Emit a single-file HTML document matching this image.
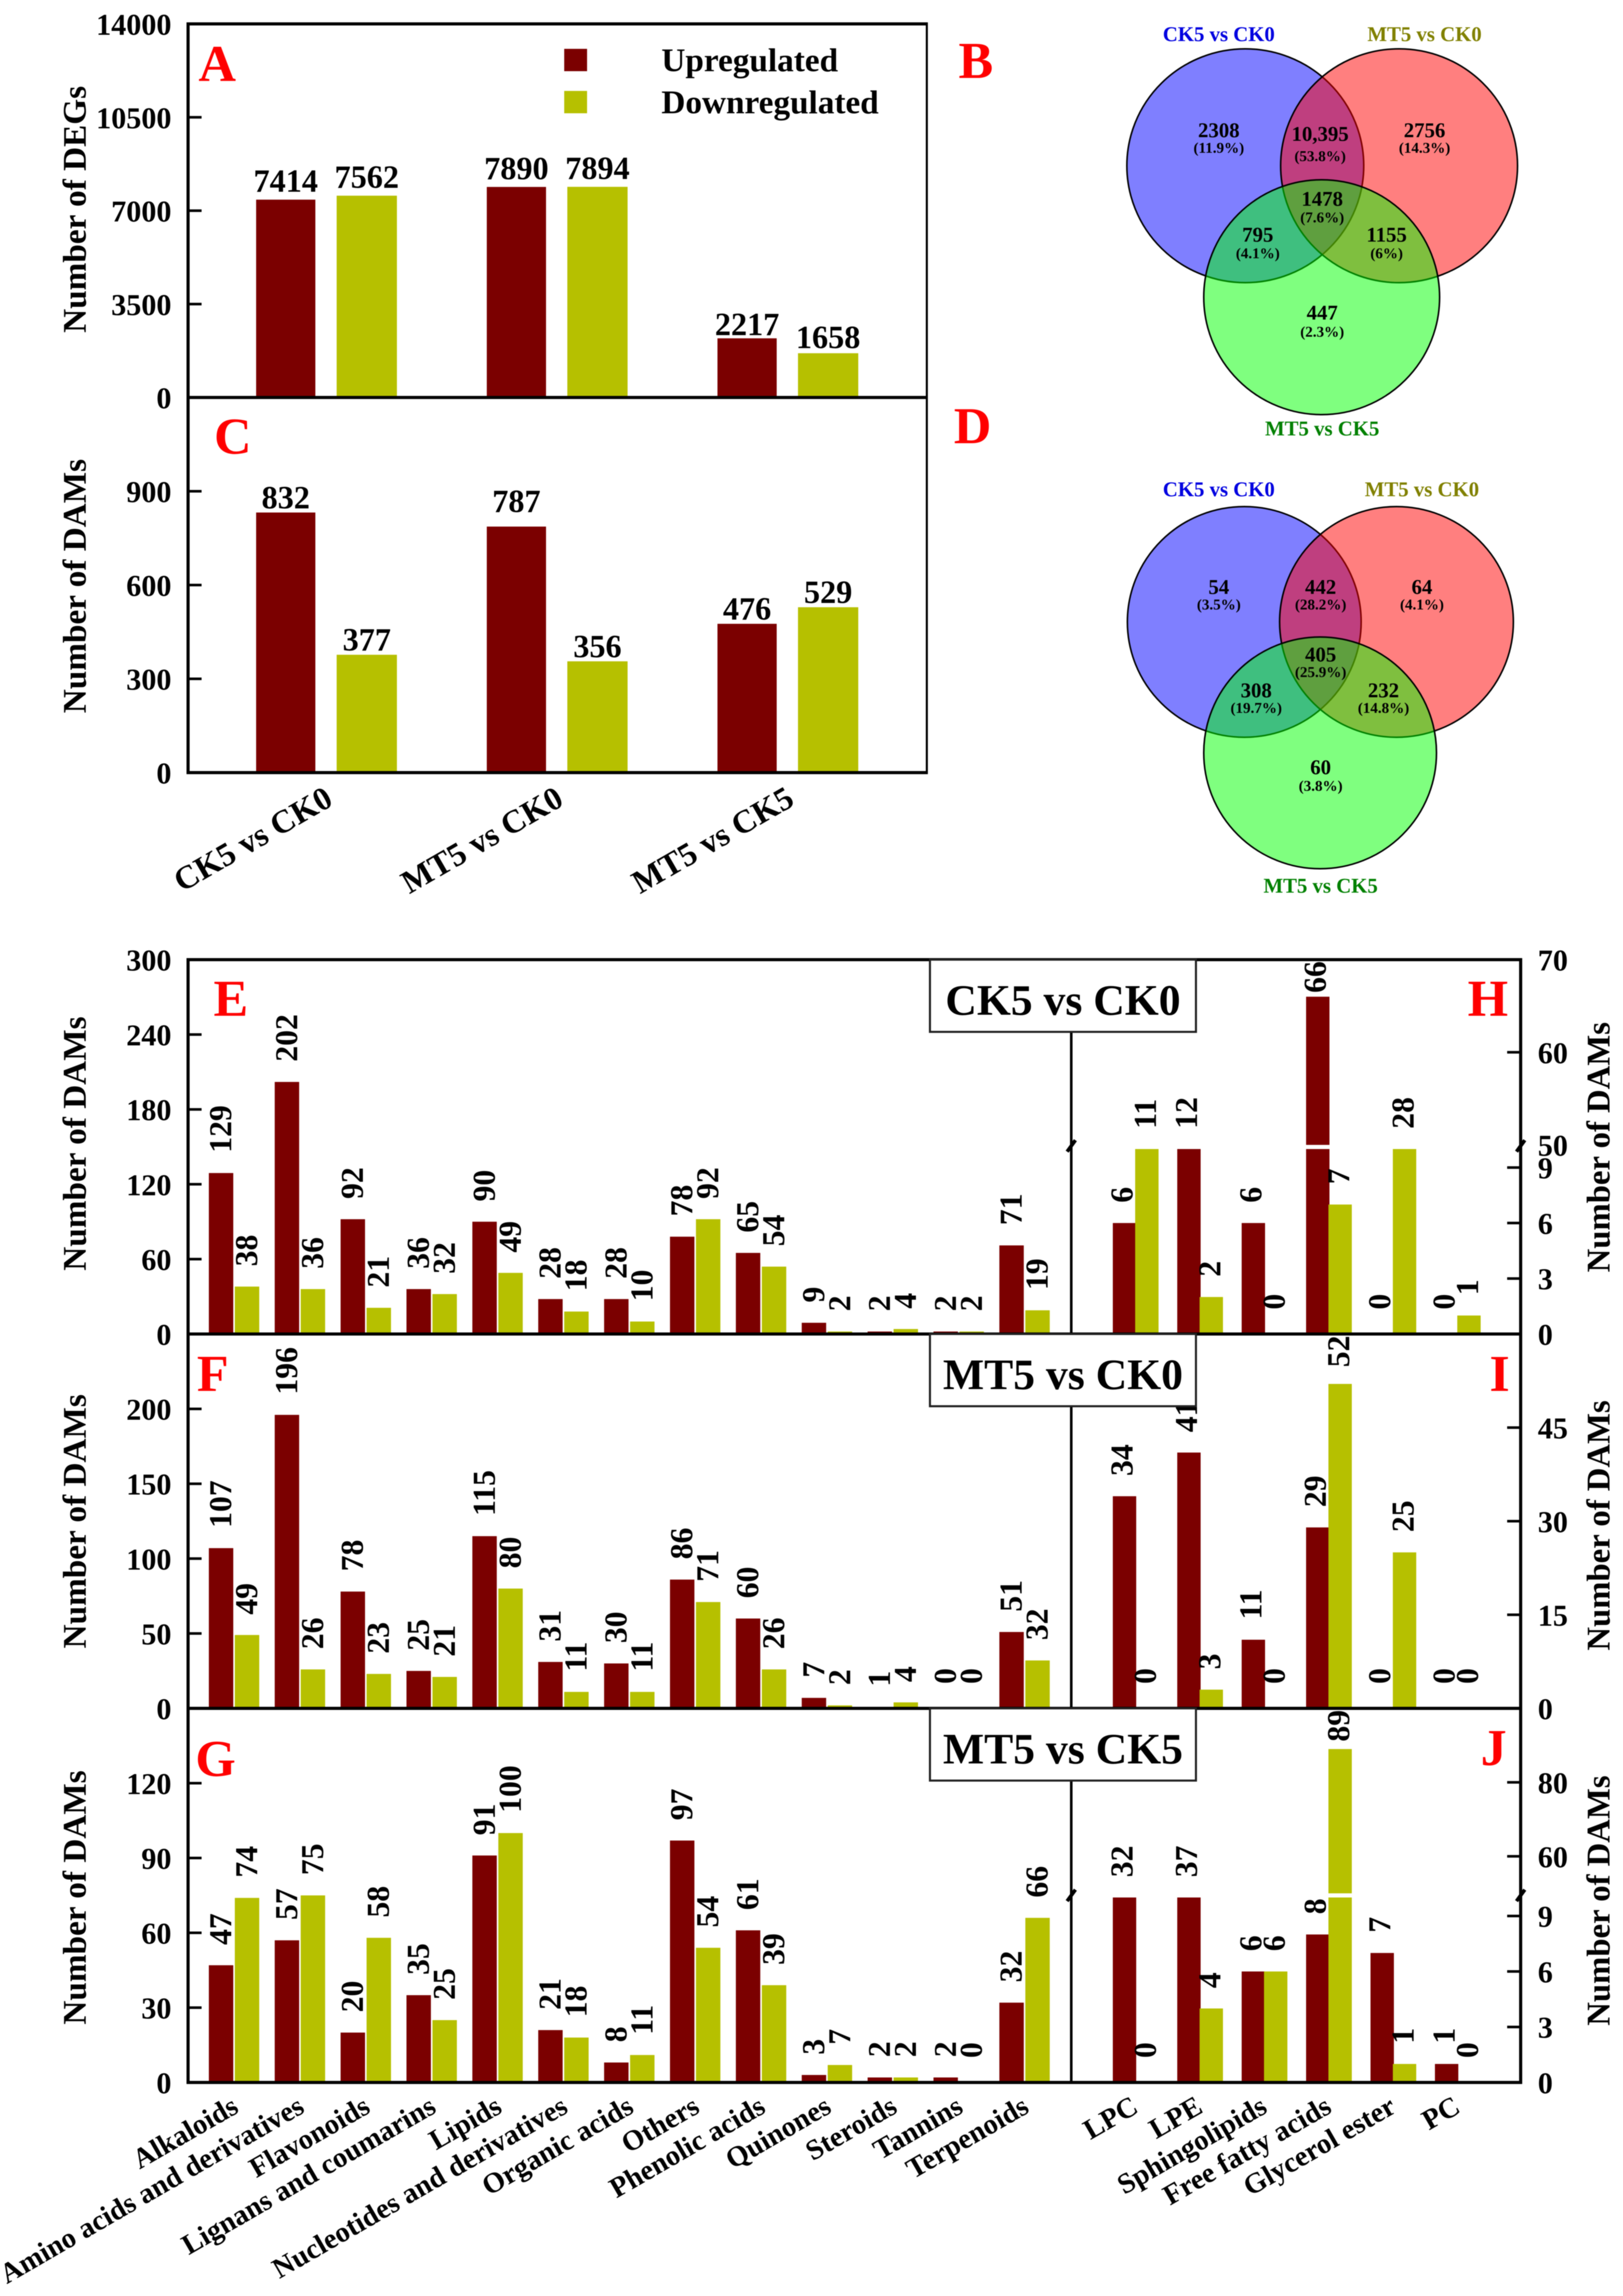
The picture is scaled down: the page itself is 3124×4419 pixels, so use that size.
<!DOCTYPE html>
<html>
<head>
<meta charset="utf-8">
<title>DEG and DAM bar charts with Venn diagrams</title>
<style>
html,body{margin:0;padding:0;background:#fff;width:3124px;height:4419px;overflow:hidden}
svg{display:block;filter:blur(0.9px)}
text{font-family:"Liberation Serif","Times New Roman",serif;font-weight:bold}
</style>
</head>
<body>
<svg id="fig" xmlns="http://www.w3.org/2000/svg" width="3124" height="4419" viewBox="0 0 3124 4419">
<rect x="0" y="0" width="3124" height="4419" fill="#fff"/>

<g>
  <ellipse cx="2397" cy="319" rx="228" ry="225" fill="#0000ff" fill-opacity=".5" stroke="#000" stroke-width="3"/>
  <ellipse cx="2693" cy="319" rx="228" ry="225" fill="#ff0000" fill-opacity=".5" stroke="#000" stroke-width="3"/>
  <ellipse cx="2544" cy="572" rx="227" ry="226" fill="#00ff00" fill-opacity=".5" stroke="#000" stroke-width="3"/>
  <g text-anchor="middle">
    <text x="2346" y="79" font-size="40" fill="#0000e0">CK5 vs CK0</text>
    <text x="2742" y="79" font-size="40" fill="#808000">MT5 vs CK0</text>
    <text x="2545" y="838" font-size="40" fill="#008000">MT5 vs CK5</text>
    <text x="2346" y="264" font-size="40">2308</text>
    <text x="2346" y="294" font-size="29">(11.9%)</text>
    <text x="2541" y="271" font-size="40">10,395</text>
    <text x="2541" y="310" font-size="29">(53.8%)</text>
    <text x="2742" y="264" font-size="40">2756</text>
    <text x="2742" y="294" font-size="29">(14.3%)</text>
    <text x="2545" y="396" font-size="40">1478</text>
    <text x="2545" y="428" font-size="29">(7.6%)</text>
    <text x="2421" y="465" font-size="40">795</text>
    <text x="2421" y="497" font-size="29">(4.1%)</text>
    <text x="2669" y="465" font-size="40">1155</text>
    <text x="2669" y="497" font-size="29">(6%)</text>
    <text x="2545" y="615" font-size="40">447</text>
    <text x="2545" y="648" font-size="29">(2.3%)</text>
  </g>
</g>

<g>
  <ellipse cx="2395" cy="1197" rx="225" ry="222" fill="#0000ff" fill-opacity=".5" stroke="#000" stroke-width="3"/>
  <ellipse cx="2688" cy="1197" rx="225" ry="222" fill="#ff0000" fill-opacity=".5" stroke="#000" stroke-width="3"/>
  <ellipse cx="2541" cy="1449" rx="224" ry="223" fill="#00ff00" fill-opacity=".5" stroke="#000" stroke-width="3"/>
  <g text-anchor="middle">
    <text x="2346" y="955" font-size="40" fill="#0000e0">CK5 vs CK0</text>
    <text x="2737" y="955" font-size="40" fill="#808000">MT5 vs CK0</text>
    <text x="2542" y="1718" font-size="40" fill="#008000">MT5 vs CK5</text>
    <text x="2346" y="1143" font-size="40">54</text>
    <text x="2346" y="1173" font-size="29">(3.5%)</text>
    <text x="2542" y="1143" font-size="40">442</text>
    <text x="2542" y="1173" font-size="29">(28.2%)</text>
    <text x="2737" y="1143" font-size="40">64</text>
    <text x="2737" y="1173" font-size="29">(4.1%)</text>
    <text x="2542" y="1273" font-size="40">405</text>
    <text x="2542" y="1303" font-size="29">(25.9%)</text>
    <text x="2418" y="1342" font-size="40">308</text>
    <text x="2418" y="1372" font-size="29">(19.7%)</text>
    <text x="2663" y="1342" font-size="40">232</text>
    <text x="2663" y="1372" font-size="29">(14.8%)</text>
    <text x="2542" y="1490" font-size="40">60</text>
    <text x="2542" y="1522" font-size="29">(3.8%)</text>
  </g>
</g>

<g>
  <rect x="1086" y="94" width="44" height="43" fill="#7b0000"/>
  <rect x="1086" y="175" width="44" height="43" fill="#b6c000"/>
  <text x="1273" y="137" font-size="64">Upregulated</text>
  <text x="1273" y="218" font-size="64">Downregulated</text>
</g>

<g fill="#f00" font-size="100">
  <text x="382" y="156" fill="#f00">A</text>
  <text x="1845" y="150" fill="#f00">B</text>
  <text x="412" y="873" fill="#f00">C</text>
  <text x="1836" y="853" fill="#f00">D</text>
  <text x="411" y="1955" fill="#f00">E</text>
  <text x="379" y="2677" fill="#f00">F</text>
  <text x="376" y="3418" fill="#f00">G</text>
  <text x="2825" y="1955" fill="#f00">H</text>
  <text x="2867" y="2677" fill="#f00">I</text>
  <text x="2850" y="3397" fill="#f00">J</text>
</g>
</svg>

<script>
/* ---- data ---- */
const comparisonLabels = ["CK5 vs CK0", "MT5 vs CK0", "MT5 vs CK5"];
const degUp = [7414, 7890, 2217];
const degDown = [7562, 7894, 1658];
const damUp = [832, 787, 476];
const damDown = [377, 356, 529];
const degTicks = [0, 3500, 7000, 10500, 14000];
const damTicks = [0, 300, 600, 900];

const classLabels = ["Alkaloids", "Amino acids and derivatives", "Flavonoids", "Lignans and coumarins", "Lipids", "Nucleotides and derivatives", "Organic acids", "Others", "Phenolic acids", "Quinones", "Steroids", "Tannins", "Terpenoids"];
const lipidLabels = ["LPC", "LPE", "Sphingolipids", "Free fatty acids", "Glycerol ester", "PC"];

const eUp = [129, 202, 92, 36, 90, 28, 28, 78, 65, 9, 2, 2, 71];
const eDown = [38, 36, 21, 32, 49, 18, 10, 92, 54, 2, 4, 2, 19];
const fUp = [107, 196, 78, 25, 115, 31, 30, 86, 60, 7, 1, 0, 51];
const fDown = [49, 26, 23, 21, 80, 11, 11, 71, 26, 2, 4, 0, 32];
const gUp = [47, 57, 20, 35, 91, 21, 8, 97, 61, 3, 2, 2, 32];
const gDown = [74, 75, 58, 25, 100, 18, 11, 54, 39, 7, 2, 0, 66];

const hUp = [6, 12, 6, 66, 0, 0];
const hDown = [11, 2, 0, 7, 28, 1];
const iUp = [34, 41, 11, 29, 0, 0];
const iDown = [0, 3, 0, 52, 25, 0];
const jUp = [32, 37, 6, 8, 7, 1];
const jDown = [0, 4, 6, 89, 1, 0];

const eTicks = [0, 60, 120, 180, 240, 300];
const fTicks = [0, 50, 100, 150, 200];
const gTicks = [0, 30, 60, 90, 120];
const hTicks = [0, 3, 6, 9, 50, 60, 70];
const iTicks = [0, 15, 30, 45];
const jTicks = [0, 3, 6, 9, 60, 80];

/* ---- drawing ---- */
const svg = document.getElementById('fig');
const NS = 'http://www.w3.org/2000/svg';
const UP = '#7b0000', DOWN = '#b6c000';
const layer = document.createElementNS(NS, 'g');


svg.insertBefore(layer, svg.children[1]);

function rect(name, x, y, w, h, fill, stroke, sw) {
  const el = document.createElementNS(NS, 'rect');
  
  
  el.setAttribute('x', x); el.setAttribute('y', y);
  el.setAttribute('width', w); el.setAttribute('height', Math.max(0, h));
  el.setAttribute('fill', fill);
  if (stroke) { el.setAttribute('stroke', stroke); el.setAttribute('stroke-width', sw); }
  layer.appendChild(el);
  return el;
}
function line(name, x1, y1, x2, y2, sw) {
  const el = document.createElementNS(NS, 'line');
  
  
  el.setAttribute('x1', x1); el.setAttribute('y1', y1);
  el.setAttribute('x2', x2); el.setAttribute('y2', y2);
  el.setAttribute('stroke', '#000'); el.setAttribute('stroke-width', sw);
  layer.appendChild(el);
  return el;
}
function label(name, str, x, y, size, anchor, rot) {
  const el = document.createElementNS(NS, 'text');
  
  
  el.setAttribute('font-size', size);
  el.setAttribute('text-anchor', anchor);
  el.setAttribute('transform', 'translate(' + x + ' ' + y + ')' + (rot ? ' rotate(' + rot + ')' : ''));
  el.textContent = str;
  layer.appendChild(el);
  return el;
}

function linearAxis(base, top, max) {
  return { y: v => base - (v / max) * (base - top), isBreak: () => false, broken: false };
}
function brokenAxis(base, top, max) {
  const k = 35.6, lowMax = 10, hiMin = 50;
  const hiStart = base - 364;
  const y = v => v <= lowMax ? base - v * k
    : v < hiMin ? base - lowMax * k
    : hiStart - (v - hiMin) / (max - hiMin) * (hiStart - top);
  return { y: y, isBreak: v => v === hiMin, broken: true, lowTop: base - lowMax * k, hiStart: hiStart, hiMin: hiMin };
}

function drawBars(name, axis, base, x, w, v, color) {
  const lowY = axis.broken ? axis.y(Math.min(v, 10)) : axis.y(v);
  rect(name, x, lowY, w, base - lowY, color);
  if (axis.broken && v >= axis.hiMin) {
    const hy = axis.y(v);
    rect(name + '-upper', x, hy, w, axis.hiStart - hy, color);
  }
}
function valueLabel(name, v, cx, axis, base, top, size) {
  const len = String(v).length * size * 0.5;
  let y = v === 0 ? base - 47 : axis.y(v) - 39;
  y = Math.max(y, top + len + 3);
  label(name, String(v), cx + size * 0.33, y, size, 'start', -90);
}
function leftTicks(prefix, ticks, axis, xAxis, base, top) {
  ticks.forEach(t => {
    const y = axis.y(t);
    if (y > top + 2 && y < base - 2) line(prefix + '-tick', xAxis, y, xAxis + 26, y, 5);
    label(prefix + '-tick-label', String(t), 330, y + 21, 58, 'end');
  });
}
function rightTicks(prefix, ticks, axis, xAxis, base, top) {
  ticks.forEach(t => {
    const y = axis.y(t);
    if (y > top + 2 && y < base - 2 && !axis.isBreak(t)) line(prefix + '-tick', xAxis - 26, y, xAxis, y, 5);
    label(prefix + '-tick-label', String(t), 2960, y + 21, 58, 'start');
  });
}
function breakMark(name, x, y) {
  line(name, x - 8, y + 11, x + 8, y - 11, 7);
}

const L = 362, R1 = 1784, R2 = 2927, DIV = 2062;

/* ---- Panels A and C ---- */
function groupedPanel(id, title, titleY, ups, downs, ticks, max, base, top, gap) {
  const ax = linearAxis(base, top, max);
  ups.forEach((v, i) => {
    const xU = 493 + 444 * i, xD = 648 + 444 * i;
    drawBars(id + '-bar-up-' + i, ax, base, xU, 114, v, UP);
    drawBars(id + '-bar-down-' + i, ax, base, xD, 116, downs[i], DOWN);
    const upShift = (id === 'panel-c' && i === 1) ? 20 : (id === 'panel-a' && i === 2) ? -9 : 0;
    const downShift = (id === 'panel-a' && i === 2) ? -5 : 0;
    label(id + '-value-up', String(v), xU + 57, ax.y(v) - gap - upShift, 62, 'middle');
    label(id + '-value-down', String(downs[i]), xD + 58, ax.y(downs[i]) - gap - downShift, 62, 'middle');
  });
  leftTicks(id, ticks, ax, L, base, top);
  label(id + '-y-axis-title', title, 165, titleY, 64, 'middle', -90);
  line(id + '-axis-left', L, top, L, base, 6);
  line(id + '-axis-right', R1, top, R1, base, 4);
  line(id + '-axis-top', L - 3, top, R1 + 2, top, 6);
  line(id + '-axis-bottom', L - 3, base, R1 + 2, base, 6);
}
groupedPanel('panel-a', 'Number of DEGs', 403, degUp, degDown, degTicks, 14000, 765, 46, 15);
groupedPanel('panel-c', 'Number of DAMs', 1128, damUp, damDown, damTicks, 1200, 1487, 765, 8);
comparisonLabels.forEach((c, i) => {
  label('comparison-label', c, 644 + 444 * i, 1548, 63, 'end', -30);
});

/* ---- Panels E..J ---- */
function classPanel(id, title, base, top, ups, downs, ticks, max, yTitleY) {
  const ax = linearAxis(base, top, max);
  ups.forEach((v, i) => {
    const x = 402 + 126.8 * i;
    drawBars(id + '-bar-up-' + i, ax, base, x, 47, v, UP);
    drawBars(id + '-bar-down-' + i, ax, base, x + 50, 47, downs[i], DOWN);
    valueLabel(id + '-value-up', v, x + 23, ax, base, top, 61);
    valueLabel(id + '-value-down', downs[i], x + 73, ax, base, top, 61);
  });
  leftTicks(id, ticks, ax, L, base, top);
  label(id + '-y-axis-title', title, 165, yTitleY, 64, 'middle', -90);
}
function lipidPanel(id, title, base, top, ups, downs, ticks, ax, yTitleY) {
  ups.forEach((v, i) => {
    const x = 2142 + 124 * i;
    drawBars(id + '-bar-up-' + i, ax, base, x, 45, v, UP);
    drawBars(id + '-bar-down-' + i, ax, base, x + 43, 45, downs[i], DOWN);
    valueLabel(id + '-value-up', v, x + 18, ax, base, top, 61);
    valueLabel(id + '-value-down', downs[i], x + 63, ax, base, top, 61);
  });
  rightTicks(id, ticks, ax, R2, base, top);
  label(id + '-y-axis-title', title, 3098, yTitleY, 63, 'middle', -90);
}
function frame(id, compTitle, top, base, hasBreak, breakY) {
  line(id + '-axis-left', L, top, L, base, 6);
  line(id + '-axis-divider', DIV, top, DIV, base, 5);
  line(id + '-axis-right', R2, top, R2, base, 6);
  line(id + '-axis-top', L - 3, top, R2 + 3, top, 6);
  line(id + '-axis-bottom', L - 3, base, R2 + 3, base, 6);
  if (hasBreak) {
    breakMark(id + '-axis-break-divider', DIV, breakY);
    breakMark(id + '-axis-break-right', R2, breakY);
  }
  rect(id + '-title-box', 1790, top, 512, 139, '#fff', '#222', 4);
  label(id + '-title', compTitle, 2046, top + 106, 84, 'middle');
}

const T1 = 1847, B1 = 2567.5, B2 = 3288, B3 = 4008;
classPanel('panel-e', 'Number of DAMs', B1, T1, eUp, eDown, eTicks, 300, 2201);
classPanel('panel-f', 'Number of DAMs', B2, B1, fUp, fDown, fTicks, 250, 2928);
classPanel('panel-g', 'Number of DAMs', B3, B2, gUp, gDown, gTicks, 150, 3652);
lipidPanel('panel-h', 'Number of DAMs', B1, T1, hUp, hDown, hTicks, brokenAxis(B1, T1, 70), 2208);
lipidPanel('panel-i', 'Number of DAMs', B2, B1, iUp, iDown, iTicks, linearAxis(B2, B1, 60), 2936);
lipidPanel('panel-j', 'Number of DAMs', B3, B2, jUp, jDown, jTicks, brokenAxis(B3, B2, 100), 3658);
frame('panel-e', 'CK5 vs CK0', T1, B1, true, B1 - 362);
frame('panel-f', 'MT5 vs CK0', B1, B2, false, 0);
frame('panel-g', 'MT5 vs CK5', B2, B3, true, B3 - 360);

classLabels.forEach((c, i) => {
  label('class-label', c, 450 + 126.8 * i + 12, 4064, 55, 'end', -30);
});
lipidLabels.forEach((c, i) => {
  label('lipid-label', c, 2186 + 124 * i + 8, 4064, 55, 'end', -30);
});
</script>
</body>
</html>
